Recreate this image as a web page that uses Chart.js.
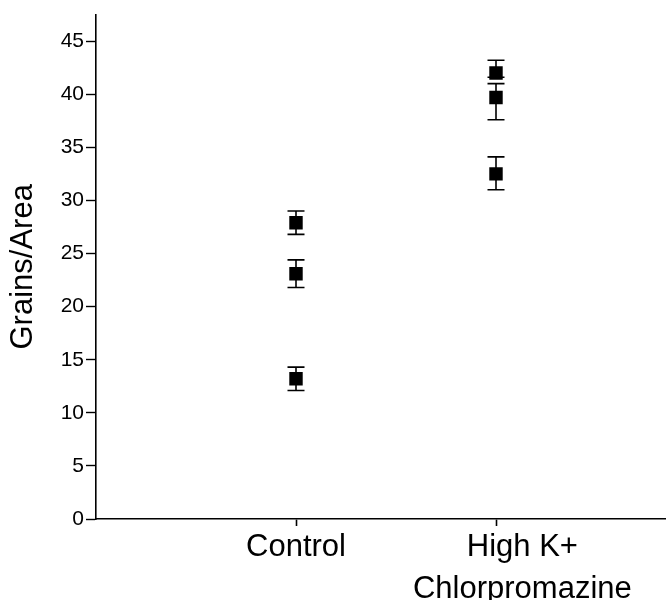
<!DOCTYPE html>
<html>
<head>
<meta charset="utf-8">
<script src="https://cdn.jsdelivr.net/npm/chart.js@4"></script>
<style>
  html, body { margin: 0; padding: 0; background: #fff; overflow: hidden; }
  #wrap { width: 666px; height: 600px; overflow: hidden; }
  canvas { display: block; }
</style>
</head>
<body>
<div id="wrap"><canvas id="chart" width="666" height="600"></canvas></div>
<script>
// categories on the x axis (positions 1 and 2)
// the second label sits a little right of its tick in the original, hence the leading spaces
const categories = ["Control", ["\u2002\u2002\u2002\u2009High K+", "\u2002\u2002\u2002\u2009Chlorpromazine"]];
const categoryPos = [1, 2];

// Grains/Area
const controlMeans = [27.9, 23.1, 13.2];
const controlHi = [29.0, 24.4, 14.3];
const controlLo = [26.8, 21.8, 12.1];

const highKMeans = [42.0, 39.7, 32.5];
const highKHi = [43.2, 41.0, 34.1];
const highKLo = [41.6, 37.6, 31.0];

const yTicks = [0, 5, 10, 15, 20, 25, 30, 35, 40, 45];

const groups = [
    { x: categoryPos[0], mean: controlMeans, hi: controlHi, lo: controlLo },
    { x: categoryPos[1], mean: highKMeans, hi: highKHi, lo: highKLo }
];

const points = [];
groups.forEach(g => {
    g.mean.forEach((m, i) => {
        points.push({ x: g.x, y: m, hi: g.hi[i], lo: g.lo[i] });
    });
});

// error bars, drawn through the scales
const errorBars = {
    id: "errorBars",
    afterDatasetsDraw(chart) {
        const ctx = chart.ctx;
        const xs = chart.scales.x;
        const ys = chart.scales.y;
        ctx.save();
        ctx.strokeStyle = "#000";
        ctx.lineWidth = 1.6;
        points.forEach(p => {
            const px = xs.getPixelForValue(p.x);
            const top = ys.getPixelForValue(p.hi);
            const bot = ys.getPixelForValue(p.lo);
            ctx.beginPath();
            ctx.moveTo(px, top);
            ctx.lineTo(px, bot);
            ctx.moveTo(px - 8.5, top);
            ctx.lineTo(px + 8.5, top);
            ctx.moveTo(px - 8.5, bot);
            ctx.lineTo(px + 8.5, bot);
            ctx.stroke();
        });
        ctx.restore();
    }
};

const font = "'Liberation Sans', Arial, sans-serif";

new Chart(document.getElementById("chart"), {
    type: "scatter",
    data: {
        datasets: [{
            data: points,
            pointStyle: "rect",
            pointRadius: 9.5,
            pointHoverRadius: 9.5,
            backgroundColor: "#000",
            borderColor: "#000",
            borderWidth: 0
        }]
    },
    options: {
        responsive: false,
        animation: false,
        layout: { autoPadding: false, padding: { top: 13, right: 0, left: 0, bottom: 0 } },
        plugins: {
            legend: { display: false },
            tooltip: { enabled: false }
        },
        scales: {
            x: {
                type: "linear",
                min: 0,
                max: 2.85,
                afterBuildTicks: s => { s.ticks = categoryPos.map(v => ({ value: v })); },
                afterFit: s => { s.height = 81; },
                border: { color: "#000", width: 1.6 },
                grid: { drawOnChartArea: false, tickLength: 7, tickColor: "#000", tickWidth: 1.6 },
                ticks: {
                    color: "#000",
                    padding: 1,
                    maxRotation: 0,
                    font: { family: font, size: 31, lineHeight: 1.35 },
                    callback: v => categories[categoryPos.indexOf(v)]
                }
            },
            y: {
                min: 0,
                max: 47.5,
                afterFit: s => { s.width = 96; },
                border: { color: "#000", width: 1.6 },
                grid: { drawOnChartArea: false, tickLength: 10, tickColor: "#000", tickWidth: 1.4 },
                ticks: {
                    stepSize: 2.5,
                    color: "#000",
                    padding: 2,
                    font: { family: font, size: 21 },
                    callback: v => yTicks.includes(v) ? String(v) : ""
                },
                title: {
                    display: true,
                    text: "Grains/Area",
                    color: "#000",
                    padding: { top: 5, bottom: 0 },
                    font: { family: font, size: 31 }
                }
            }
        }
    },
    plugins: [errorBars]
});
</script>
</body>
</html>
